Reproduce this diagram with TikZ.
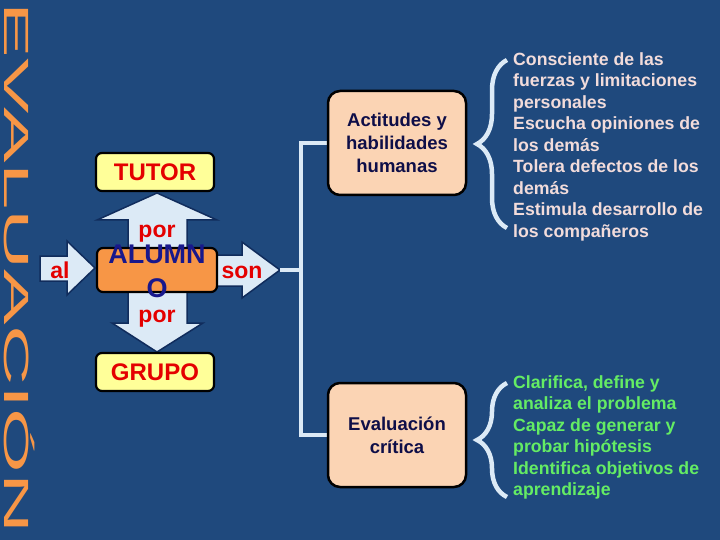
\documentclass[tikz,border=0pt]{standalone}
\usepackage{fontspec}
\setmainfont{Liberation Sans}
\usepackage{graphicx}
\usetikzlibrary{calc, decorations.pathreplacing}
\definecolor{slidebg}{RGB}{31,73,125}
\definecolor{titleorange}{RGB}{247,150,70}
\definecolor{boxyellow}{RGB}{255,255,153}
\definecolor{boxpeach}{RGB}{251,212,180}
\definecolor{arrowblue}{RGB}{220,234,246}
\definecolor{arrowedge}{RGB}{16,44,92}
\definecolor{labelred}{RGB}{228,0,0}
\definecolor{alumnonavy}{RGB}{24,24,140}
\definecolor{boxtext}{RGB}{14,14,72}
\definecolor{listpink}{RGB}{242,220,219}
\definecolor{listgreen}{RGB}{100,236,100}
\tikzset{
  small box/.style={draw=black, line width=2.2pt, rounded corners=6pt, minimum width=118pt, minimum height=38pt, inner sep=0pt},
  tutor box/.style={small box, fill=boxyellow, text=labelred, font=\bfseries\fontsize{24}{24}\selectfont},
  alumno box/.style={small box, fill=titleorange, minimum width=120pt, minimum height=44pt},
  alumno text/.style={text=alumnonavy, align=center, inner sep=0pt, font=\bfseries\fontsize{27}{34}\selectfont},
  big box/.style={draw=black, line width=2.5pt, rounded corners=12pt, fill=boxpeach, minimum width=138pt, minimum height=104pt, align=center, text=boxtext, font=\bfseries\fontsize{18.5}{23}\selectfont},
  block arrow/.style={fill=arrowblue, draw=arrowedge, line width=1.5pt, line join=miter},
  arrow label/.style={text=labelred, inner sep=0pt, anchor=base, font=\bfseries\fontsize{23}{23}\selectfont},
  link line/.style={draw=arrowblue, line width=4pt},
  brace line/.style={draw=arrowblue, line width=4.5pt, decorate, decoration={brace, amplitude=30pt}},
  list text/.style={align=left, inner sep=0pt, anchor=north west, font=\bfseries\fontsize{17.7}{21.5}\selectfont},
  title text/.style={text=titleorange, inner sep=0pt, font=\fontsize{35}{35}\selectfont},
}

\begin{document}
\begin{tikzpicture}[x=1pt, y=-1pt]
  \useasboundingbox (0,0) rectangle (720,540);
  \fill[slidebg] (0,0) rectangle (720,540);
  \node[title text, rotate=-90, anchor=base] (titulo) at (5,268) {\scalebox{2.38}[1]{EVALUACIÓN}};
  % block arrows round the student box
  \draw[block arrow] (40,256) -- (67,256) -- (67,241) -- (95,268) -- (67,295) -- (67,281) -- (40,281) -- cycle;
  \draw[block arrow] (128,250) -- (128,220) -- (97,220) -- (157,193) -- (217,220) -- (187,220) -- (187,250) -- cycle;
  \draw[block arrow] (128,290) -- (128,323) -- (112,323) -- (157,352) -- (203,323) -- (187,323) -- (187,290) -- cycle;
  \draw[block arrow] (215,255) -- (242,255) -- (242,242) -- (280,270) -- (242,298) -- (242,286) -- (215,286) -- cycle;
  \coordinate (sontip) at (280,270);
  \coordinate (bus) at (301,270);
  \node[tutor box] (tutor) at (155,172) {TUTOR};
  \node[tutor box] (grupo) at (155,372) {GRUPO};
  \node[alumno box] (alumno) at (157,270) {};
  \node[alumno text, anchor=base] (alumnotxt) at (157,297) {ALUMN\\O};
  \node[arrow label] (porarriba) at (157,237) {por};
  \node[arrow label] (porabajo) at (157,322) {por};
  \node[arrow label] (al) at (60,278) {al};
  \node[arrow label] (son) at (242,278) {son};
  % branches
  \draw[link line] (sontip) -- (bus) |- (397,143);
  \draw[link line] (bus) |- (397,435);
  \node[big box] (actitudes) at (397,143) {Actitudes y\\habilidades\\humanas};
  \node[big box] (evaluacion) at (397,435) {Evaluación\\crítica};
  \draw[brace line] (507,228) -- (507,60);
  \draw[brace line] (507,497) -- (507,383);
  \node[list text, text=listpink] (actitudeslist) at (513,52) {Consciente de las\\fuerzas y limitaciones\\personales\\Escucha opiniones de\\los demás\\Tolera defectos de los\\demás\\Estimula desarrollo de\\los compañeros};
  \node[list text, text=listgreen] (criticalist) at (513,375) {Clarifica, define y\\analiza el problema\\Capaz de generar y\\probar hipótesis\\Identifica objetivos de\\aprendizaje};
\end{tikzpicture}
\end{document}
